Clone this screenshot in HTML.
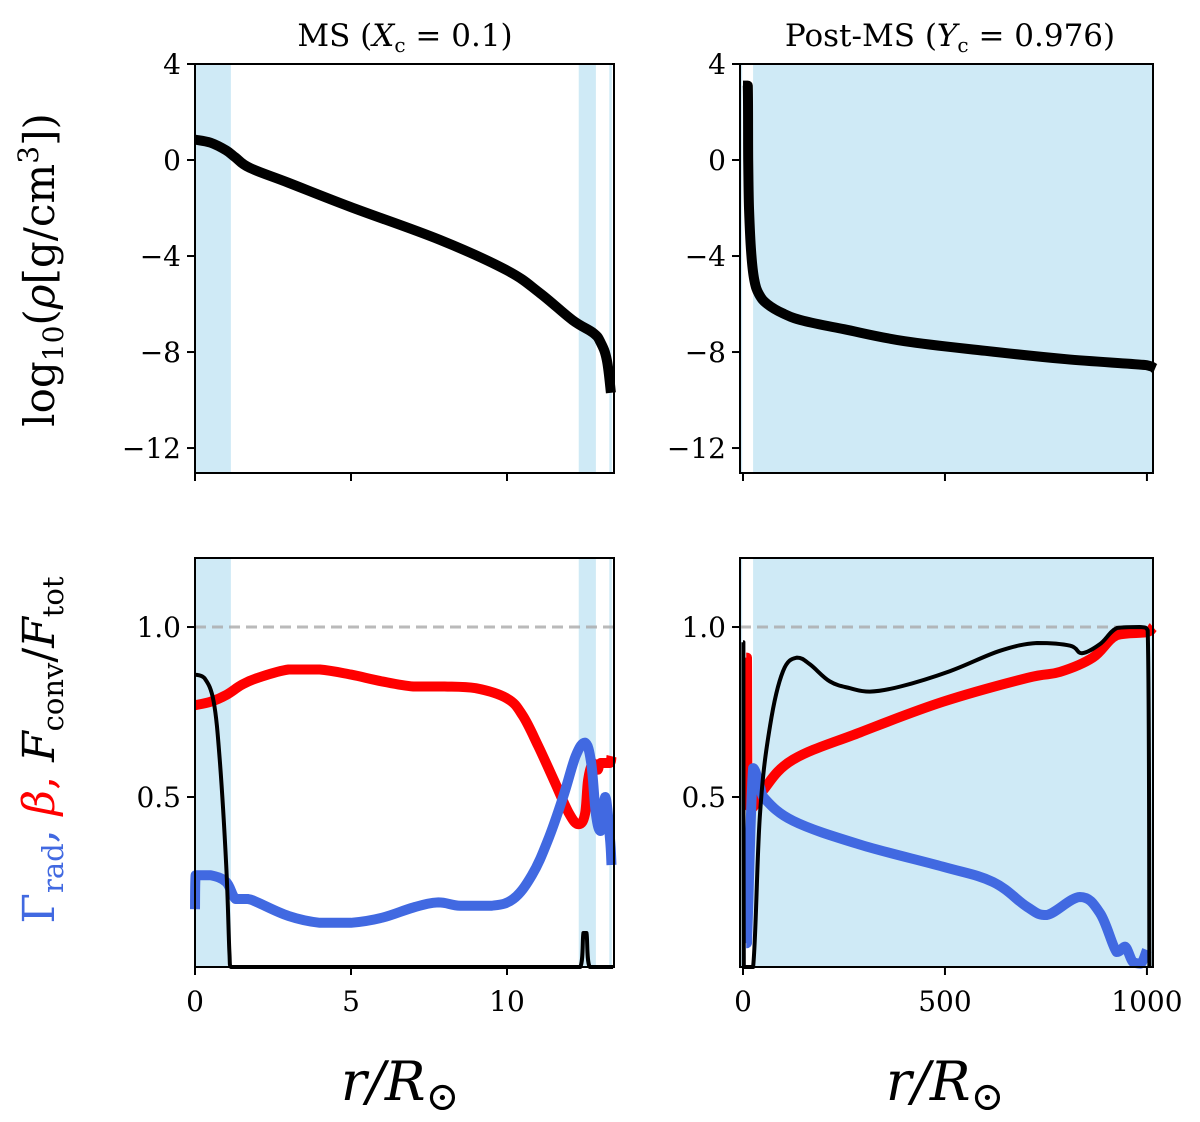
<!DOCTYPE html>
<html><head><meta charset="utf-8"><style>
body{margin:0;background:#fff}
svg{display:block;font-family:"DejaVu Serif","Liberation Serif",serif}
</style></head><body>
<svg id="fig" width="1200" height="1122" viewBox="0 0 1200 1122">
<g id="root"></g>
<text x="405" y="46" font-size="31" text-anchor="middle">MS (<tspan font-style="italic">X</tspan><tspan font-size="20" dy="6">c</tspan><tspan dy="-6"> = 0.1)</tspan></text>
<text x="950" y="46" font-size="31" text-anchor="middle">Post-MS (<tspan font-style="italic">Y</tspan><tspan font-size="20" dy="6">c</tspan><tspan dy="-6"> = 0.976)</tspan></text>
<text transform="translate(54,270) rotate(-90)" font-size="42" text-anchor="middle">log<tspan font-size="28" dy="9">10</tspan><tspan dy="-9">(</tspan><tspan font-style="italic">ρ</tspan>[g/cm<tspan font-size="28" dy="-16">3</tspan><tspan dy="16">])</tspan></text>
<text transform="translate(54,750) rotate(-90)" font-size="44" text-anchor="middle"><tspan fill="#4169e1">Γ<tspan font-size="29" dy="9">rad</tspan><tspan dy="-9">, </tspan></tspan><tspan fill="#ff0000" font-style="italic">β</tspan><tspan fill="#ff0000">, </tspan><tspan font-style="italic">F</tspan><tspan font-size="29" dy="9">conv</tspan><tspan dy="-9">/</tspan><tspan font-style="italic">F</tspan><tspan font-size="29" dy="9">tot</tspan></text>
<text x="400" y="1100" font-size="54" text-anchor="middle" font-style="italic">r/R<tspan font-style="normal" font-size="40" dy="10">⊙</tspan></text>
<text x="945" y="1100" font-size="54" text-anchor="middle" font-style="italic">r/R<tspan font-style="normal" font-size="40" dy="10">⊙</tspan></text>
</svg>
<script>
// Data
const msRhoX=[0,0.5,1,1.3,1.76,3,4.97,7.85,10,11.06,12.1,12.76,13.0,13.2,13.33];
const msRhoY=[0.85,0.72,0.4,0.1,-0.33,-0.95,-1.95,-3.33,-4.6,-5.55,-6.67,-7.2,-7.6,-8.33,-9.7];
const pmRhoX=[0,12,13,15,20,28,40,60,100,150,250,400,600,800,1000,1020];
const pmRhoY=[3.1,3.1,0,-2,-3.8,-5.0,-5.6,-6.0,-6.4,-6.7,-7.05,-7.55,-7.95,-8.3,-8.55,-8.7];
const msBetaX=[0,0.5,1,1.5,2,3,4,5,6,7,8,9,10,10.5,11,11.5,12,12.3,12.5,12.6,12.75,12.9,13.0,13.3,13.35];
const msBetaY=[0.77,0.78,0.8,0.83,0.85,0.875,0.875,0.86,0.84,0.825,0.825,0.82,0.79,0.74,0.65,0.55,0.45,0.42,0.45,0.55,0.6,0.58,0.6,0.6,0.62];
const msGamX=[0,0.02,0.5,1,1.3,1.7,2,3,4,5,6,7,7.8,8.5,9.5,10.2,10.8,11.3,11.8,12.2,12.5,12.7,12.85,13.0,13.15,13.3,13.35];
const msGamY=[0.17,0.27,0.27,0.25,0.2,0.2,0.19,0.15,0.13,0.13,0.145,0.175,0.19,0.18,0.18,0.2,0.27,0.37,0.5,0.62,0.66,0.6,0.45,0.4,0.5,0.38,0.3];
const msConvX=[0,0.3,0.6,0.8,1.0,1.1,1.15,12.35,12.45,12.55,12.65,13.4];
const msConvY=[0.86,0.85,0.78,0.6,0.3,0.05,0,0,0.1,0.1,0,0];
const pmConvX=[0,1,2,25,42,67,99,134,166,215,265,314,390,512,636,728,810,839,884,926,982,1002,1006];
const pmConvY=[0.955,0.955,0,0,0.45,0.71,0.87,0.91,0.89,0.84,0.82,0.81,0.825,0.87,0.93,0.953,0.945,0.923,0.95,0.997,1.0,0.99,0];
const pmBetaX=[8,10,12,25,50,124,290,495,703,785,866,925,1000,1015];
const pmBetaY=[0.91,0.91,0.48,0.47,0.52,0.61,0.69,0.78,0.85,0.868,0.91,0.976,0.985,1.0];
const pmGamX=[8,10,25,42,50,124,290,495,619,703,752,834,884,925,946,965,985,1000];
const pmGamY=[0.07,0.07,0.585,0.53,0.5,0.43,0.36,0.295,0.25,0.177,0.153,0.206,0.158,0.044,0.06,0.015,0.01,0.05];
const msShade=[[0,1.15],[12.3,12.85],[13.28,13.36]];
const pmShade=[[-7.4,-2],[25,1015]];
const rhoTicks=[4,0,-4,-8,-12];
const fracTicks=[1.0,0.5];
const msXTicks=[0,5,10];
const pmXTicks=[0,500,1000];

const NS="http://www.w3.org/2000/svg";
const root=document.getElementById('root');
function mk(t,a,p){const e=document.createElementNS(NS,t);for(const k in a)e.setAttribute(k,a[k]);(p||root).appendChild(e);return e;}
function axis(L,R,T,B,x0,x1,y0,y1){return{L,R,T,B,sx:v=>L+(v-x0)/(x1-x0)*(R-L),sy:v=>B-(v-y0)/(y1-y0)*(B-T)};}
const A={
 tl:axis(195,614,64,473,0,13.43,-13.04,4),
 tr:axis(740,1153,64,473,-7.4,1015,-13.04,4),
 bl:axis(195,614,558,967,0,13.43,0,1.203),
 br:axis(740,1153,558,967,-7.4,1015,0,1.203)};
function shade(a,arr,name){arr.forEach(s=>{const r=mk('rect',{x:a.sx(s[0]),y:a.T,width:a.sx(s[1])-a.sx(s[0]),height:a.B-a.T,fill:'#cfeaf6'});

});}
const cl=(v,a,b)=>Math.max(Math.min(a,b),Math.min(Math.max(a,b),v));
function line(a,xs,ys,col,w,name){
 const P=xs.map((x,i)=>[a.sx(x),a.sy(ys[i])]);
 let d='M'+P[0][0].toFixed(1)+','+P[0][1].toFixed(1);
 const t=0.18;
 for(let i=0;i<P.length-1;i++){
  const p0=P[Math.max(0,i-1)],p1=P[i],p2=P[i+1],p3=P[Math.min(P.length-1,i+2)];
  const c1=[cl(p1[0]+(p2[0]-p0[0])*t,p1[0],p2[0]),cl(p1[1]+(p2[1]-p0[1])*t,p1[1],p2[1])];
  const c2=[cl(p2[0]-(p3[0]-p1[0])*t,p1[0],p2[0]),cl(p2[1]-(p3[1]-p1[1])*t,p1[1],p2[1])];
  d+='C'+c1[0].toFixed(1)+','+c1[1].toFixed(1)+' '+c2[0].toFixed(1)+','+c2[1].toFixed(1)+' '+p2[0].toFixed(1)+','+p2[1].toFixed(1);
 }
 const p=mk('path',{d,fill:'none',stroke:col,'stroke-width':w,'stroke-linejoin':'round','stroke-linecap':'butt'});
 
 }
function frame(a,xt,yt,xlab,yfmt,name){
 const f=mk('rect',{x:a.L,y:a.T,width:a.R-a.L,height:a.B-a.T,fill:'none',stroke:'#000','stroke-width':2});
 
 
 xt.forEach(v=>{const x=a.sx(v);mk('line',{x1:x,x2:x,y1:a.B,y2:a.B+8,stroke:'#000','stroke-width':2});
  if(xlab){const t=mk('text',{x:x,y:a.B+44,'font-size':28,'text-anchor':'middle'});t.textContent=v;
  
  }});
 yt.forEach(v=>{const y=a.sy(v);mk('line',{x1:a.L-8,x2:a.L,y1:y,y2:y,stroke:'#000','stroke-width':2});
  const t=mk('text',{x:a.L-14,y:y+10,'font-size':28,'text-anchor':'end'});t.textContent=yfmt(v);
  
  });}
const rf=v=>v<0?'−'+Math.abs(v):String(v);
const ff=v=>v.toFixed(1);
shade(A.tl,msShade,'convective-zone');shade(A.tr,pmShade,'convective-zone');
shade(A.bl,msShade,'convective-zone');shade(A.br,pmShade,'convective-zone');
[A.bl,A.br].forEach(a=>{const l=mk('line',{x1:a.L,x2:a.R,y1:a.sy(1),y2:a.sy(1),stroke:'#aaa','stroke-width':3,'stroke-dasharray':'11 6',opacity:0.8});

});
line(A.tl,msRhoX,msRhoY,'#000',10,'density-line-ms');
line(A.tr,pmRhoX,pmRhoY,'#000',10,'density-line-post-ms');
line(A.bl,msBetaX,msBetaY,'#ff0000',10,'beta-line-ms');
line(A.bl,msGamX,msGamY,'#4169e1',10,'gamma-rad-line-ms');
line(A.bl,msConvX,msConvY,'#000',4,'fconv-line-ms');
line(A.br,pmBetaX,pmBetaY,'#ff0000',10,'beta-line-post-ms');
line(A.br,pmGamX,pmGamY,'#4169e1',10,'gamma-rad-line-post-ms');
line(A.br,pmConvX,pmConvY,'#000',4,'fconv-line-post-ms');
frame(A.tl,msXTicks,rhoTicks,false,rf,'axes-density-ms');
frame(A.tr,pmXTicks,rhoTicks,false,rf,'axes-density-post-ms');
frame(A.bl,msXTicks,fracTicks,true,ff,'axes-ratios-ms');
frame(A.br,pmXTicks,fracTicks,true,ff,'axes-ratios-post-ms');
</script>
</body></html>
